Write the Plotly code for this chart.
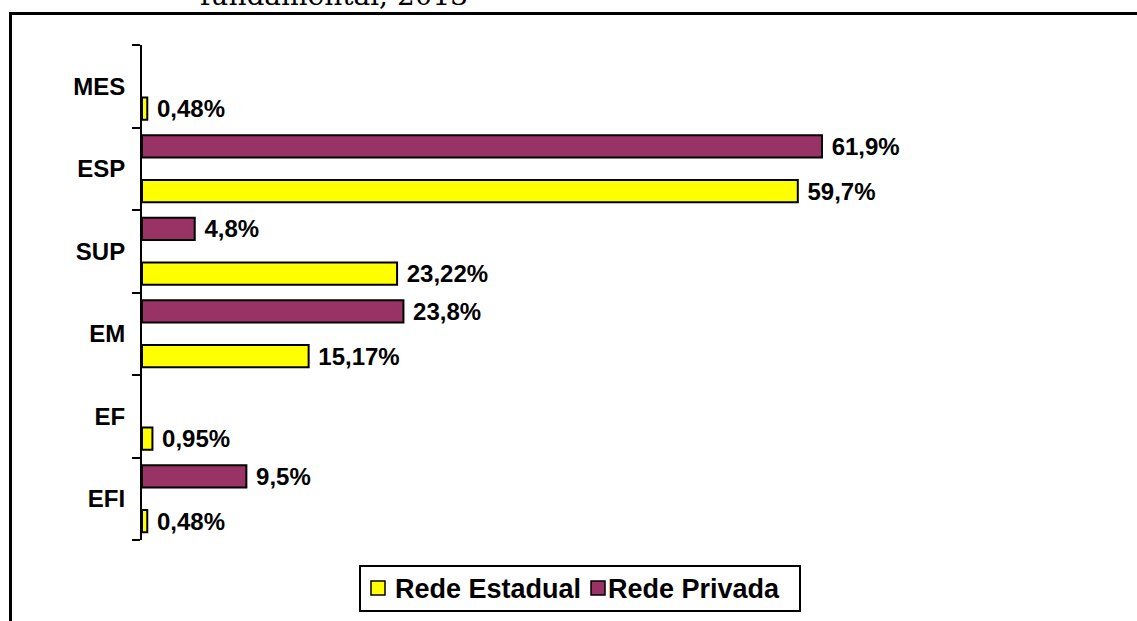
import plotly.graph_objects as go

categories = ["EFI", "EF", "EM", "SUP", "ESP", "MES"]
estadual = [0.48, 0.95, 15.17, 23.22, 59.7, 0.48]
privada = [9.5, None, 23.8, 4.8, 61.9, None]
estadual_labels = ["0,48%", "0,95%", "15,17%", "23,22%", "59,7%", "0,48%"]
privada_labels = ["9,5%", "", "23,8%", "4,8%", "61,9%", ""]
series_names = ["Rede Estadual", "Rede Privada"]
series_colors = ["#FFFF00", "#993366"]

W, H = 1137, 621
L, R, T, B = 142, 37, 45, 81
pw, ph = W - L - R, H - T - B
xmax = pw / 10.985

def px(x):
    return (x - L) / pw

def py(y):
    return (H - B - y) / ph

FONT = "Liberation Sans, Arial, sans-serif"

fig = go.Figure()
fig.add_trace(go.Bar(
    y=categories, x=estadual, orientation="h", name=series_names[0],
    marker=dict(color=series_colors[0], line=dict(color="black", width=2)),
    width=0.27, offset=-0.405,
    text=estadual_labels, texttemplate=" %{text}", textposition="outside",
    cliponaxis=False, constraintext="none", showlegend=False,
    textfont=dict(family=FONT, size=24, color="black", weight="bold"),
))
fig.add_trace(go.Bar(
    y=categories, x=privada, orientation="h", name=series_names[1],
    marker=dict(color=series_colors[1], line=dict(color="black", width=2)),
    width=0.27, offset=0.135,
    text=privada_labels, texttemplate=" %{text}", textposition="outside",
    cliponaxis=False, constraintext="none", showlegend=False,
    textfont=dict(family=FONT, size=24, color="black", weight="bold"),
))

def rect(x0, y0, x1, y1, fill, lw):
    return dict(type="rect", xref="paper", yref="paper",
                x0=px(x0), x1=px(x1), y0=py(y0), y1=py(y1),
                fillcolor=fill, line=dict(color="black", width=lw))

shapes = [
    dict(type="line", xref="paper", yref="paper", x0=px(10.5), x1=px(1140),
         y0=py(13.5), y1=py(13.5), line=dict(color="black", width=3)),
    dict(type="line", xref="paper", yref="paper", x0=px(10.5), x1=px(10.5),
         y0=py(12), y1=py(625), line=dict(color="black", width=3)),
    # manual legend box
    rect(360, 566, 800, 611, "white", 2),
    rect(371, 581, 385, 595, series_colors[0], 1.5),
    rect(591, 581, 605, 595, series_colors[1], 1.5),
]

annotations = [
    dict(text="fundamental, 2013", xref="paper", yref="paper",
         x=px(198), y=py(14), xanchor="left", yanchor="bottom",
         showarrow=False,
         font=dict(family="DejaVu Serif, serif", size=28, color="black")),
    dict(text=series_names[0], xref="paper", yref="paper",
         x=px(393), y=py(588.5), xanchor="left", yanchor="middle", showarrow=False,
         font=dict(family=FONT, size=27, color="black", weight="bold")),
    dict(text=series_names[1], xref="paper", yref="paper",
         x=px(606), y=py(588.5), xanchor="left", yanchor="middle", showarrow=False,
         font=dict(family=FONT, size=27, color="black", weight="bold")),
]

fig.update_layout(
    width=W, height=H,
    margin=dict(l=L, r=R, t=T, b=B),
    paper_bgcolor="white", plot_bgcolor="white",
    barmode="group",
    font=dict(family=FONT, color="black"),
    xaxis=dict(range=[0, xmax], visible=False, showgrid=False, zeroline=False),
    yaxis=dict(
        type="category", categoryorder="array", categoryarray=categories,
        showline=True, linecolor="black", linewidth=2,
        ticks="outside", ticklen=8, tickwidth=2, tickcolor="black",
        tickson="boundaries", showgrid=False,
        tickfont=dict(family=FONT, size=24, color="black", weight="bold"),
        ticklabelstandoff=10,
    ),
    showlegend=False,
    shapes=shapes,
    annotations=annotations,
)

fig.write_html("out.html", config={"displayModeBar": False},
               post_script="document.body.style.margin='0';document.body.style.overflow='hidden';")
